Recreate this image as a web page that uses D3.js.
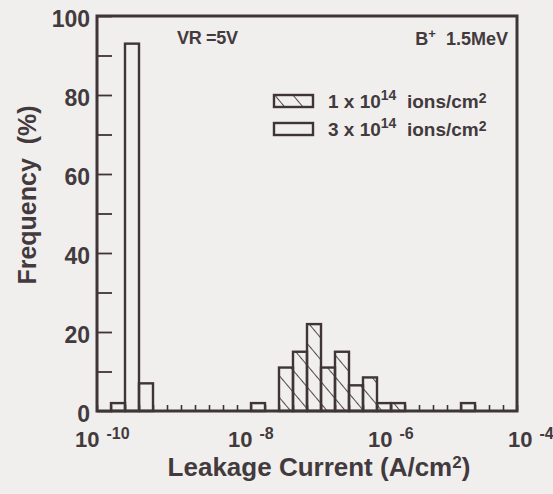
<!DOCTYPE html>
<html>
<head>
<meta charset="utf-8">
<script src="https://cdn.jsdelivr.net/npm/d3@7"></script>
<style>
  html, body { margin: 0; padding: 0; background: #f0efed; }
  svg { display: block; }
  text { font-family: "Liberation Sans", Arial, Helvetica, sans-serif; font-weight: bold; fill: #433a3e; }
</style>
</head>
<body>
<svg id="chart" width="553" height="494"></svg>
<script>
// Histogram bins are 0.2 decade wide; each bin is identified by log10 of its lower edge.
const binWidthDecades = 0.2;

// 3 x 10^14 ions/cm2 (open bars)
const openBinLo = [-9.8, -9.6, -9.4, -7.8, -4.8];
const openFreq  = [2, 93, 7, 2, 2];

// 1 x 10^14 ions/cm2 (hatched bars)
const hatchBinLo = [-7.4, -7.2, -7.0, -6.8, -6.6, -6.4, -6.2, -6.0, -5.8];
const hatchFreq  = [11, 15, 22, 11, 15, 6.5, 8.5, 2, 2];

// Axis ticks and labels
const xDecadeExps = [-10, -8, -6, -4];
const yTickLabels = [0, 20, 40, 60, 80, 100];
const yMinorStep = 10;

const legendLabels = [
  { lead: "1 x 10", sup: "14", tail: " ions/cm", sup2: "2", hatched: true },
  { lead: "3 x 10", sup: "14", tail: " ions/cm", sup2: "2", hatched: false }
];

const ink = "#3f3438";
const svg = d3.select("#chart");

const margin = { left: 97, right: 36, top: 16, bottom: 83 };
const W = 553, H = 494;

const x = d3.scaleLog().domain([1e-10, 1e-4]).range([margin.left, W - margin.right]);
const y = d3.scaleLinear().domain([0, 100]).range([H - margin.bottom, margin.top]);

// Diagonal hatch pattern ("\" direction), shared in user space so lines run across neighbouring bars
const defs = svg.append("defs");
const pat = defs.append("pattern")
  .attr("id", "hatch")
  .attr("patternUnits", "userSpaceOnUse")
  .attr("width", 14).attr("height", 14)
  .attr("patternTransform", "rotate(-40)");
pat.append("line")
  .attr("x1", 0).attr("y1", 0).attr("x2", 0).attr("y2", 14)
  .attr("stroke", ink).attr("stroke-width", 1.8);

// Bottom ticks at every bin boundary, pointing into the plot
const binEdges = d3.range(0, 31).map(i => Math.pow(10, -10 + i * binWidthDecades));
const xAxis = d3.axisBottom(x).tickValues(binEdges).tickSize(-6).tickFormat("");
svg.append("g")
  .attr("transform", `translate(0,${y(0)})`)
  .call(xAxis)
  .call(g => g.select(".domain").remove())
  .call(g => g.selectAll("line").attr("stroke", ink).attr("stroke-width", 1.6));

// Left ticks every 10 %, pointing inward
const yAxis = d3.axisLeft(y).tickValues(d3.range(0, 101, yMinorStep)).tickSize(-15).tickFormat("");
svg.append("g")
  .attr("transform", `translate(${x(1e-10)},0)`)
  .call(yAxis)
  .call(g => g.select(".domain").remove())
  .call(g => g.selectAll("line").attr("stroke", ink).attr("stroke-width", 1.8));

// Bars
function drawBars(lo, freq, fill) {
  svg.append("g").selectAll("rect")
    .data(lo.map((l, i) => ({ l, v: freq[i] })))
    .join("rect")
    .attr("x", d => x(Math.pow(10, d.l)))
    .attr("width", d => x(Math.pow(10, d.l + binWidthDecades)) - x(Math.pow(10, d.l)))
    .attr("y", d => y(d.v))
    .attr("height", d => y(0) - y(d.v))
    .attr("fill", fill)
    .attr("stroke", ink)
    .attr("stroke-width", 2.4);
}
drawBars(hatchBinLo, hatchFreq, "url(#hatch)");
drawBars(openBinLo, openFreq, "none");

// Plot frame
svg.append("rect")
  .attr("x", x(1e-10)).attr("y", y(100))
  .attr("width", x(1e-4) - x(1e-10)).attr("height", y(0) - y(100))
  .attr("fill", "none").attr("stroke", ink).attr("stroke-width", 3);

// Y tick labels
svg.append("g").selectAll("text")
  .data(yTickLabels)
  .join("text")
  .attr("x", 90)
  .attr("y", d => y(d) + 11)
  .attr("text-anchor", "end")
  .attr("font-size", 23)
  .text(d => d);

// X tick labels: 10 with superscript exponent
const xl = svg.append("g").selectAll("text")
  .data(xDecadeExps)
  .join("text")
  .attr("x", (d, i) => x(Math.pow(10, d)) - (i === 0 ? 22 : 9))
  .attr("y", 447)
  .attr("font-size", 22);
xl.append("tspan").text("10");
xl.append("tspan").attr("dx", 7).attr("dy", -8).attr("font-size", 16).text(d => "-" + Math.abs(d));

// Axis titles
const xt = svg.append("text")
  .attr("x", 319).attr("y", 476)
  .attr("text-anchor", "middle")
  .attr("font-size", 26);
xt.append("tspan").text("Leakage Current (A/cm");
xt.append("tspan").attr("dy", -8).attr("font-size", 17).text("2");
xt.append("tspan").attr("dy", 8).text(")");

svg.append("text")
  .attr("transform", "translate(36,195) rotate(-90)")
  .attr("text-anchor", "middle")
  .attr("font-size", 25)
  .attr("xml:space", "preserve")
  .text("Frequency  (%)");

// Conditions
svg.append("text").attr("x", 177).attr("y", 44).attr("font-size", 18)
  .attr("letter-spacing", -0.3)
  .text("VR =5V");

const bp = svg.append("text").attr("x", 508).attr("y", 45).attr("font-size", 18).attr("text-anchor", "end");
bp.append("tspan").text("B");
bp.append("tspan").attr("dy", -7).attr("font-size", 13).text("+");
bp.append("tspan").attr("dy", 7).attr("dx", 10).text("1.5MeV");

// Legend
const lg = svg.append("g").selectAll("g")
  .data(legendLabels)
  .join("g")
  .attr("transform", (d, i) => `translate(274,${95 + i * 28})`);
lg.append("rect")
  .attr("width", 39).attr("height", 12)
  .attr("fill", d => d.hatched ? "url(#hatch)" : "none")
  .attr("stroke", ink).attr("stroke-width", 2.4);
const lt = lg.append("text").attr("x", 54).attr("y", 13).attr("font-size", 19);
lt.append("tspan").text(d => d.lead);
lt.append("tspan").attr("dy", -8).attr("font-size", 14).text(d => d.sup);
lt.append("tspan").attr("dy", 8).attr("xml:space", "preserve").text(d => " " + d.tail);
lt.append("tspan").attr("dy", -5).attr("font-size", 14).text(d => d.sup2);
</script>
</body>
</html>
